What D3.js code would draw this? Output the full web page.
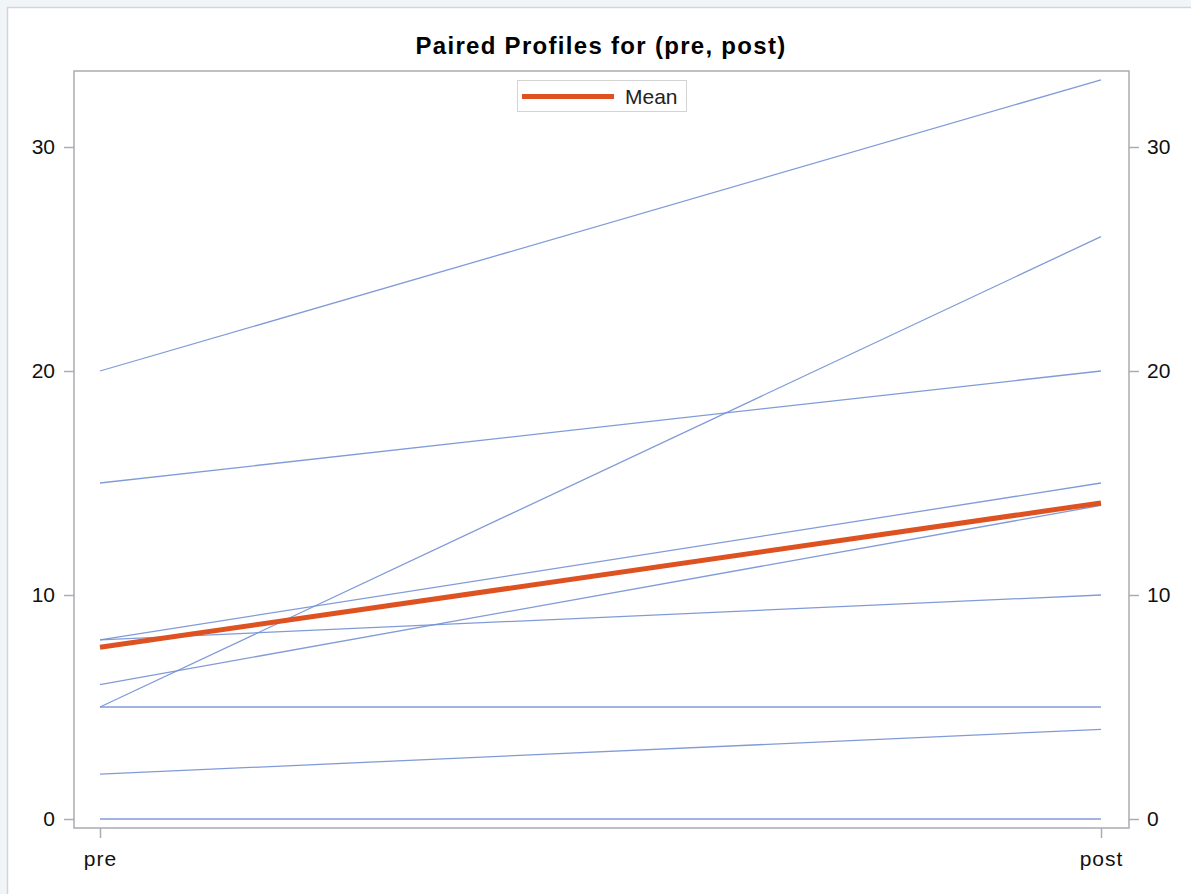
<!DOCTYPE html>
<html><head><meta charset="utf-8">
<script src="https://cdn.jsdelivr.net/npm/d3@7"></script>
<style>
html,body{margin:0;padding:0;background:#f2f5f8;}
svg{display:block;}
</style></head><body>
<script>
const categories = ["pre", "post"];
const preValues  = [20, 5, 15, 8, 6, 8, 5, 2, 0];
const postValues = [33, 26, 20, 15, 14, 10, 5, 4, 0];
const yTicks = [0, 10, 20, 30];
const title = "Paired Profiles for (pre, post)";
const legendLabel = "Mean";

const meanPre = d3.mean(preValues), meanPost = d3.mean(postValues);

const W = 1191, H = 894;
const svg = d3.select("body").append("svg").attr("width", W).attr("height", H);

svg.append("rect").attr("x", 7.5).attr("y", 7.5).attr("width", W).attr("height", H)
  .attr("fill", "#ffffff").attr("stroke", "#cfd5db").attr("stroke-width", 1.5);

const fL = 74, fR = 1129, fT = 71, fB = 828;
const x = d3.scalePoint().domain(categories).range([100, 1101]);
const y = d3.scaleLinear().domain([0, 30]).range([819, 147]);

const font = "'Liberation Sans', Arial, sans-serif";

svg.append("text").attr("x", 601).attr("y", 54).attr("text-anchor", "middle")
  .attr("font-family", font).attr("font-weight", "bold").attr("font-size", 24)
  .attr("letter-spacing", 1.3)
  .attr("fill", "#000").text(title);

// frame
svg.append("rect").attr("x", fL).attr("y", fT).attr("width", fR - fL).attr("height", fB - fT)
  .attr("fill", "none").attr("stroke", "#a9acb0").attr("stroke-width", 1.5);

// axes
const axL = svg.append("g").attr("transform", `translate(${fL},0)`)
  .call(d3.axisLeft(y).tickValues(yTicks).tickSize(10).tickPadding(9).tickFormat(d3.format("d")));
const axR = svg.append("g").attr("transform", `translate(${fR},0)`)
  .call(d3.axisRight(y).tickValues(yTicks).tickSize(10).tickPadding(8).tickFormat(d3.format("d")));
const axB = svg.append("g").attr("transform", `translate(0,${fB})`)
  .call(d3.axisBottom(x).tickSize(10).tickPadding(13));
[axL, axR, axB].forEach(a => {
  a.select(".domain").remove();
  a.selectAll(".tick line").attr("stroke", "#a9acb0").attr("stroke-width", 1.5);
  a.selectAll(".tick text").attr("font-family", font).attr("font-size", 21).attr("fill", "#111");
});
axB.selectAll(".tick text").attr("letter-spacing", 1);

// profile lines
const line = d3.line().x(d => x(d[0])).y(d => y(d[1]));
const g = svg.append("g");
preValues.forEach((p, i) => {
  g.append("path").datum([["pre", p], ["post", postValues[i]]])
    .attr("d", line).attr("fill", "none").attr("stroke", "#7390d4").attr("stroke-width", 1.3)
    .attr("stroke-opacity", 0.9);
});
g.append("path").datum([["pre", meanPre], ["post", meanPost]])
  .attr("d", line).attr("fill", "none").attr("stroke", "#dd5220").attr("stroke-width", 5);

// legend
const lg = svg.append("g");
lg.append("rect").attr("x", 517.5).attr("y", 80.5).attr("width", 169).attr("height", 31)
  .attr("fill", "#fff").attr("stroke", "#d3d3d3").attr("stroke-width", 1);
lg.append("line").attr("x1", 522).attr("x2", 614).attr("y1", 96.5).attr("y2", 96.5)
  .attr("stroke", "#dd5220").attr("stroke-width", 5);
lg.append("text").attr("x", 625).attr("y", 104).attr("font-family", font).attr("font-size", 21)
  .attr("fill", "#222").text(legendLabel);
</script>
</body></html>
